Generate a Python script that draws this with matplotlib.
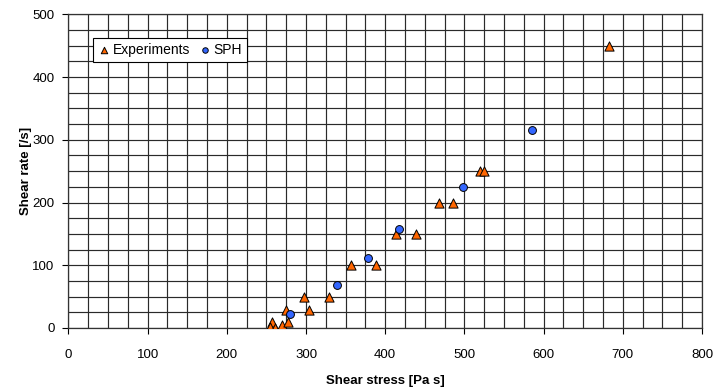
import matplotlib.pyplot as plt
from matplotlib.ticker import MultipleLocator

plt.rcParams['font.family'] = ['Liberation Sans', 'DejaVu Sans']

# Experiments (shear stress, shear rate)
exp_stress = [257, 255, 261, 270, 277, 275, 304, 298, 329, 357, 388, 413, 439, 468, 485, 520, 525, 682]
exp_rate = [9, 1, 0, 4, 9, 29, 29, 50, 50, 100, 100, 150, 150, 200, 200, 250, 250, 450]

# SPH results
sph_stress = [280, 339, 378, 418, 498, 585]
sph_rate = [22, 68, 112, 157, 225, 316]

fig = plt.figure(figsize=(7.13, 3.89), dpi=100)
ax = fig.add_axes([0.096, 0.157, 0.8886, 0.806])

ax.scatter(exp_stress, exp_rate, marker='^', s=44, c='#FF6600',
           edgecolors='black', linewidths=0.7, label='Experiments', zorder=3)
ax.scatter(sph_stress, sph_rate, marker='o', s=32, c='#3366FF',
           edgecolors='black', linewidths=0.7, label='SPH', zorder=3)

ax.set_xlim(0, 800)
ax.set_ylim(0, 500)
ax.xaxis.set_major_locator(MultipleLocator(100))
ax.yaxis.set_major_locator(MultipleLocator(100))
ax.xaxis.set_minor_locator(MultipleLocator(25))
ax.yaxis.set_minor_locator(MultipleLocator(25))
ax.grid(which='both', color='#2a2a2a', linewidth=0.85)
ax.set_axisbelow(True)
ax.tick_params(which='major', direction='out', length=4, labelsize=9.5, color='black')
ax.tick_params(axis='x', which='major', pad=11)
ax.tick_params(axis='y', which='major', pad=6)
ax.tick_params(which='minor', length=0)
for sp in ax.spines.values():
    sp.set_color('#333333')
    sp.set_linewidth(0.9)

ax.set_xlabel('Shear stress [Pa s]', fontsize=9.5, fontweight='bold', labelpad=10)
ax.set_ylabel('Shear rate [/s]', fontsize=9.5, fontweight='bold', labelpad=0)

leg = ax.legend(loc='upper left', bbox_to_anchor=(0.038, 0.925), ncol=2, fontsize=10,
                fancybox=False, framealpha=1, edgecolor='black', handletextpad=0.1,
                columnspacing=0.6, borderpad=0.35, handlelength=1.0, markerscale=0.7,
                borderaxespad=0)
leg.get_frame().set_linewidth(0.8)

fig.savefig('out.png', dpi=100)
